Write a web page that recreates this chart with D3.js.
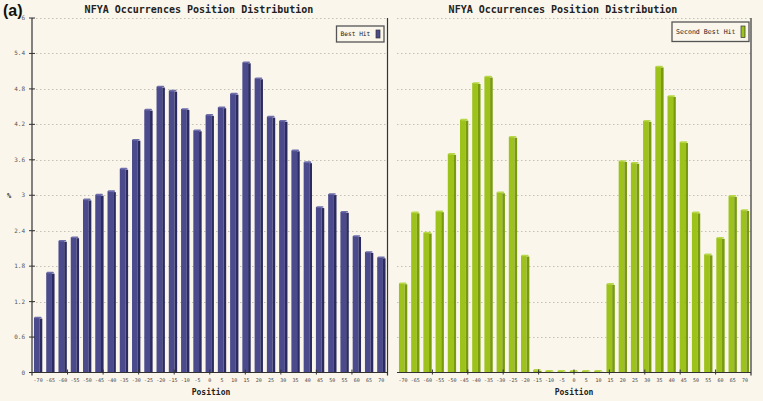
<!DOCTYPE html>
<html><head><meta charset="utf-8">
<script src="https://cdn.jsdelivr.net/npm/d3@7"></script>
<style>html,body{margin:0;padding:0;background:#faf6ec;}svg{display:block;}</style>
</head><body>
<svg id="c" width="763" height="401"></svg>
<script>
const positions = ["-70","-65","-60","-55","-50","-45","-40","-35","-30","-25","-20","-15","-10","-5","0","5","10","15","20","25","30","35","40","45","50","55","60","65","70"];
const bestHit = [0.93,1.69,2.23,2.29,2.93,3.01,3.07,3.45,3.94,4.45,4.84,4.77,4.46,4.10,4.36,4.49,4.72,5.25,4.98,4.33,4.26,3.76,3.56,2.80,3.02,2.72,2.31,2.04,1.95];
const secondBestHit = [1.51,2.71,2.37,2.73,3.70,4.28,4.90,5.01,3.05,3.99,1.98,0.045,0.03,0.03,0.03,0.03,0.03,1.50,3.58,3.55,4.26,5.18,4.68,3.90,2.71,2.00,2.28,2.99,2.75];
const yTicks = [0,0.6,1.2,1.8,2.4,3,3.6,4.2,4.8,5.4,6];
const chartTitle = "NFYA Occurrences Position Distribution";

const svg = d3.select("#c");
svg.append("rect").attr("width",763).attr("height",401).attr("fill","#faf6ec");
const mono = "'DejaVu Sans Mono', monospace";
const y = d3.scaleLinear().domain([0,6]).range([372.5,18]);

function panel(opts){
  const g = svg.append("g");
  const x = d3.scaleBand().domain(positions).range([opts.x0,opts.x1]).paddingInner(0.32).paddingOuter(0.16);
  g.selectAll("line.grid").data(yTicks.slice(1)).join("line")
    .attr("x1",opts.gx0).attr("x2",opts.x1).attr("y1",d=>Math.round(y(d))+0.5).attr("y2",d=>Math.round(y(d))+0.5)
    .attr("stroke","#b8b4aa").attr("stroke-width",0.8).attr("stroke-dasharray","1.5,2.5");
  const bw = x.bandwidth(), side = 2.6;
  const bars = g.selectAll("g.bar").data(opts.values).join("g");
  bars.append("rect").attr("x",(d,i)=>x(positions[i])).attr("y",d=>y(d)).attr("width",bw-side).attr("height",d=>y(0)-y(d)).attr("fill",opts.face);
  bars.append("rect").attr("x",(d,i)=>x(positions[i])+bw-side).attr("y",d=>y(d)+1).attr("width",side).attr("height",d=>Math.max(0,y(0)-y(d)-1)).attr("fill",opts.side);
  bars.append("rect").attr("x",(d,i)=>x(positions[i])+0.5).attr("y",d=>y(d)-0.8).attr("width",bw-1.2).attr("height",1.6).attr("rx",0.8).attr("fill",opts.top);
  const ax = d3.axisBottom(x).tickSize(0).tickPadding(6);
  const axg = g.append("g").attr("transform",`translate(0,${y(0)})`).call(ax);
  axg.select(".domain").remove();
  axg.selectAll("text").attr("font-family",mono).attr("font-size",5).attr("fill","#444");
  g.append("line").attr("x1",opts.gx0).attr("x2",opts.x1).attr("y1",y(0)).attr("y2",y(0)).attr("stroke","#333").attr("stroke-width",1.2);
  const divs = d3.range(1,10).map(i=>opts.gx0+(opts.x1-opts.gx0)*i/10);
  g.selectAll("line.xt").data(divs).join("line").attr("x1",d=>d).attr("x2",d=>d).attr("y1",y(0)-3).attr("y2",y(0)+2).attr("stroke","#333").attr("stroke-width",1);
  g.append("line").attr("x1",opts.x1).attr("x2",opts.x1).attr("y1",18).attr("y2",y(0)+3).attr("stroke","#333").attr("stroke-width",1.2);
  g.append("text").attr("x",opts.titleX).attr("y",13).attr("text-anchor","middle").attr("font-family",mono).attr("font-weight","bold").attr("font-size",10).attr("fill","#222").text(chartTitle);
  g.append("text").attr("x",opts.xlabX).attr("y",395).attr("text-anchor","middle").attr("font-family",mono).attr("font-weight","bold").attr("font-size",8).attr("fill","#222").text("Position");
  const L = opts.legend;
  g.append("rect").attr("x",L.x).attr("y",L.y).attr("width",L.w).attr("height",L.h).attr("fill","#faf6ec").attr("stroke","#555").attr("stroke-width",1.3);
  g.append("text").attr("x",L.x+4).attr("y",L.y+L.h/2+2.3).attr("font-family",mono).attr("font-size",L.fs).attr("fill","#222").text(L.label);
  g.append("rect").attr("x",L.x+L.w-8).attr("y",L.y+4).attr("width",4).attr("height",L.h-8).attr("fill",opts.face).attr("stroke","#333").attr("stroke-width",0.7);
}

panel({x0:32,gx0:32,x1:387.5,values:bestHit,face:"#4a4a8c",side:"#2b2b62",top:"#6e6eab",titleX:199,xlabX:211,
  legend:{x:336.5,y:26,w:47.5,h:16,label:"Best Hit",fs:6.2}});
panel({x0:397,gx0:397,x1:751,values:secondBestHit,face:"#9dc21c",side:"#789a0c",top:"#b8d84a",titleX:563,xlabX:574,
  legend:{x:672,y:22,w:77,h:19.5,label:"Second Best Hit",fs:6.6}});

const ya = svg.append("g").attr("transform","translate(32,0)");
ya.append("line").attr("x1",0).attr("x2",0).attr("y1",18).attr("y2",y(0)+3).attr("stroke","#333").attr("stroke-width",1.2);
ya.selectAll("line.yt").data(yTicks).join("line").attr("x1",-3).attr("x2",3).attr("y1",d=>y(d)).attr("y2",d=>y(d)).attr("stroke","#333").attr("stroke-width",1);
ya.selectAll("text").data(yTicks).join("text").attr("x",-7).attr("y",d=>y(d)+2).attr("text-anchor","end").attr("font-family",mono).attr("font-size",6).attr("fill","#555").text(d=>d);
svg.append("text").attr("x",7).attr("y",198).attr("font-family",mono).attr("font-weight","bold").attr("font-size",7).attr("fill","#333").text("%");
svg.append("text").attr("x",3).attr("y",16).attr("font-family","'Liberation Sans', Arial, sans-serif").attr("font-weight","bold").attr("font-size",16).attr("fill","#111").text("(a)");
</script>
</body></html>
